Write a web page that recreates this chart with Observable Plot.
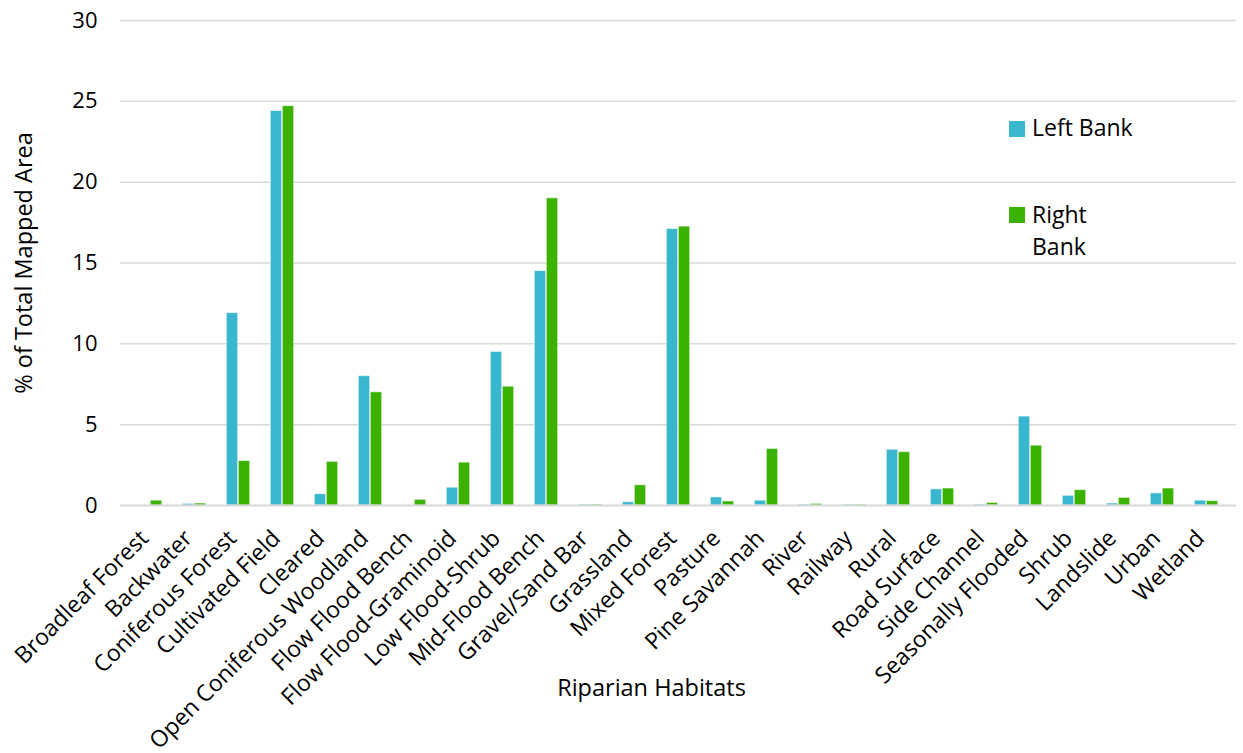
<!DOCTYPE html>
<html>
<head>
<meta charset="utf-8">
<script src="https://cdn.jsdelivr.net/npm/d3@7"></script>
<script src="https://cdn.jsdelivr.net/npm/@observablehq/plot@0.6"></script>
<style>
  html, body { margin: 0; padding: 0; background: #fff; }
  #chart { position: relative; width: 1243px; height: 753px; font-family: "Open Sans", sans-serif; }
  .legend { position: absolute; left: 1009px; top: 0; font-size: 23px; color: #000; line-height: 32px; }
  .legend .sw { position: absolute; left: 0; width: 16px; height: 16px; }
  .legend .lab { position: absolute; left: 23px; white-space: nowrap; }
</style>
</head>
<body>
<div id="chart"></div>
<script>
// Share of total mapped riparian area, by habitat and bank
const habitats = [
  "Broadleaf Forest", "Backwater", "Coniferous Forest", "Cultivated Field", "Cleared",
  "Open Coniferous Woodland", "Flow Flood Bench", "Flow Flood-Graminoid", "Low Flood-Shrub",
  "Mid-Flood Bench", "Gravel/Sand Bar", "Grassland", "Mixed Forest", "Pasture",
  "Pine Savannah", "River", "Railway", "Rural", "Road Surface", "Side Channel",
  "Seasonally Flooded", "Shrub", "Landslide", "Urban", "Wetland"
];
const leftBank = [
  0, 0.1, 11.9, 24.4, 0.7, 8.0, 0, 1.1, 9.5, 14.5, 0.06, 0.2, 17.1,
  0.5, 0.3, 0.06, 0.05, 3.45, 1.0, 0.06, 5.5, 0.6, 0.12, 0.75, 0.3
];
const rightBank = [
  0.3, 0.12, 2.75, 24.7, 2.7, 7.0, 0.35, 2.65, 7.35, 19.0, 0.06, 1.25, 17.25,
  0.25, 3.5, 0.1, 0.05, 3.3, 1.05, 0.16, 3.7, 0.95, 0.47, 1.05, 0.27
];
const yTicks = [0, 5, 10, 15, 20, 25, 30];
const seriesNames = ["Left Bank", "Right Bank"];
const seriesColors = ["#3bb6cf", "#3cb200"];

const leftRows = habitats.map((h, i) => ({habitat: h, value: leftBank[i]}));
const rightRows = habitats.map((h, i) => ({habitat: h, value: rightBank[i]}));

const width = 1243, height = 753;
const marginLeft = 120, marginRight = 7, marginTop = 20, marginBottom = 248;
const step = (width - marginLeft - marginRight) / habitats.length;
const barW = 12;
const outer = (step - 2 * barW) / 2;

const font = "Open Sans, sans-serif";

const plot = Plot.plot({
  width, height, marginLeft, marginRight, marginTop, marginBottom,
  style: {fontFamily: font, fontSize: "22px", color: "#000", background: "#fff"},
  x: {domain: habitats, padding: 0},
  y: {domain: [0, 30]},
  marks: [
    Plot.ruleY(yTicks.filter(d => d > 0), {stroke: "#d9d9d9", strokeWidth: 1.5}),
    Plot.barY(leftRows, {
      x: "habitat", y: "value", fill: seriesColors[0],
      insetLeft: outer, insetRight: step - outer - barW,
      stroke: "#ffffff", strokeOpacity: 0.55, strokeWidth: 1
    }),
    Plot.barY(rightRows, {
      x: "habitat", y: "value", fill: seriesColors[1],
      insetLeft: outer + barW, insetRight: outer,
      stroke: "#ffffff", strokeOpacity: 0.55, strokeWidth: 1
    }),
    Plot.ruleY([0], {stroke: "#d9d9d9", strokeWidth: 2}),
    Plot.axisY({
      ticks: yTicks, tickSize: 0, tickPadding: 23, label: null,
      fontSize: 22
    }),
    Plot.axisX({
      tickSize: 0, tickPadding: 29, tickRotate: -45, label: null,
      fontSize: 23, dx: -6
    }),
    Plot.text(["% of Total Mapped Area"], {
      text: d => d, frameAnchor: "left", textAnchor: "middle", rotate: -90, dx: -96,
      fontSize: 23.5, fill: "#000"
    }),
    Plot.text(["Riparian Habitats"], {
      text: d => d, frameAnchor: "bottom", textAnchor: "middle", dx: -27, dy: 190,
      fontSize: 23.5, fill: "#000"
    })
  ]
});

const chart = document.getElementById("chart");
chart.appendChild(plot);

// Legend placed inside the plot area, upper right
const legend = document.createElement("div");
legend.className = "legend";
legend.innerHTML = `
  <div class="sw" style="top:121px;background:${seriesColors[0]}"></div>
  <div class="lab" style="top:111px">${seriesNames[0]}</div>
  <div class="sw" style="top:207px;background:${seriesColors[1]}"></div>
  <div class="lab" style="top:198px">Right<br>Bank</div>
`;
chart.appendChild(legend);
</script>
</body>
</html>
